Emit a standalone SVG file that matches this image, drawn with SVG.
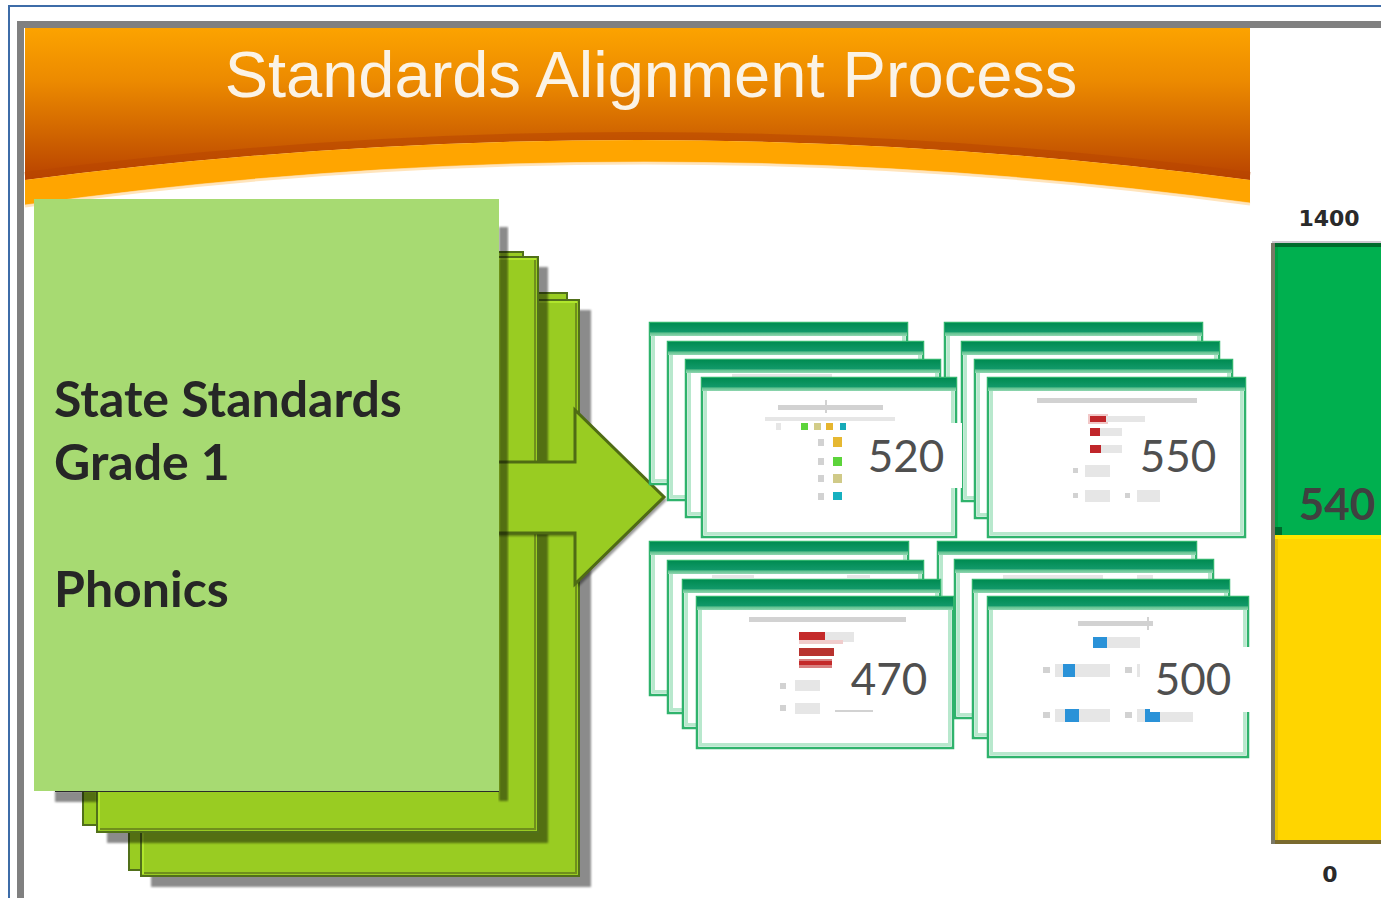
<svg xmlns="http://www.w3.org/2000/svg" width="1381" height="898" viewBox="0 0 1381 898">
  <defs>
    <linearGradient id="hdr" x1="0" y1="0" x2="0" y2="1" gradientUnits="objectBoundingBox">
      <stop offset="0" stop-color="#fca300"/>
      <stop offset="0.35" stop-color="#ec8a00"/>
      <stop offset="0.7" stop-color="#d06400"/>
      <stop offset="1" stop-color="#b84200"/>
    </linearGradient>
    <linearGradient id="bar" x1="0" y1="0" x2="0" y2="1">
      <stop offset="0" stop-color="#008c52"/>
      <stop offset="0.7" stop-color="#12996a"/>
      <stop offset="0.75" stop-color="#5dc08d"/>
      <stop offset="1" stop-color="#8fd6b0"/>
    </linearGradient>
    <filter id="blurShadow" x="-10%" y="-10%" width="120%" height="120%">
      <feGaussianBlur stdDeviation="1.2"/>
    </filter>
    <filter id="soft" x="-20%" y="-20%" width="140%" height="140%">
      <feGaussianBlur stdDeviation="0.7"/>
    </filter>
    <style>
      .page { fill: #99cc22; stroke: #51701a; stroke-width: 2; }
      .hi { fill: none; stroke: #b0e62c; stroke-width: 2; }
      .lo { fill: none; stroke: #6f8f1c; stroke-width: 2; }
      .shadow { fill: #000; opacity: 0.45; filter: url(#blurShadow); }
      .card-frame { fill: #ffffff; stroke: #2fb36c; stroke-width: 2.5; }
      .card-inner { fill: none; stroke: #b8e8cd; stroke-width: 3; }
      .card-bar { fill: url(#bar); }
      .label { font-family: "Lato", "Open Sans", "Liberation Sans", sans-serif; font-weight: 700; fill: #262626; font-size: 50px; }
      .score { font-family: "Lato", "Open Sans", "Liberation Sans", sans-serif; font-size: 44px; fill: #4f4f4f; text-anchor: middle; }
      .axis { font-family: "DejaVu Sans", "Liberation Sans", sans-serif; font-weight: 700; font-size: 22px; fill: #2a2a2a; text-anchor: middle; }
      .g1 { fill: #d2d2d2; }
      .g2 { fill: #e6e6e6; }
    </style>
  </defs>

  <!-- page background and frame -->
  <rect x="0" y="0" width="1381" height="898" fill="#ffffff"/>
  <line x1="8" y1="6" x2="1381" y2="6" stroke="#3d6ca8" stroke-width="2"/>
  <line x1="9" y1="5" x2="9" y2="898" stroke="#3d6ca8" stroke-width="2"/>
  <rect x="17" y="21" width="1364" height="7" fill="#808080"/>
  <rect x="17" y="21" width="7" height="877" fill="#808080"/>

  <!-- title banner -->
  <g id="banner">
    <path d="M25,28 H1250 V180 Q638,100 25,180 Z" fill="url(#hdr)"/>
    <path d="M25,176 Q638,96 1250,176" fill="none" stroke="#b84600" stroke-width="8" opacity="0.55"/>
    <path d="M25,180 Q638,100 1250,180 V203 Q638,120 25,205 Z" fill="#ffa500"/>
    <path d="M25,206 Q638,121 1250,204" fill="none" stroke="#ffd9a0" stroke-width="3" opacity="0.7"/>
    <text x="651" y="97" text-anchor="middle" font-family="Liberation Sans, Arial, sans-serif" font-size="65" fill="#fbf3e6">Standards Alignment Process</text>
  </g>

  <!-- stacked standards pages -->
  <g id="standards-stack">
    <rect x="129" y="293" width="438" height="577" class="page"/>
    <rect x="151" y="310" width="440" height="577" class="shadow"/>
    <rect x="141" y="300" width="438" height="576" class="page"/>
    <path d="M143,874 V302 H577" class="hi"/>
    <path d="M576,303 V873 H144" class="lo"/>
    <rect x="83" y="252" width="440" height="573" class="page"/>
    <rect x="107" y="267" width="441" height="576" class="shadow"/>
    <rect x="97" y="257" width="441" height="575" class="page"/>
    <path d="M99,830 V259 H536" class="hi"/>
    <path d="M535,260 V829 H100" class="lo"/>
  </g>

  <!-- connector: arrow from standards to item sets -->
  <g id="connectors">
    <polygon points="492,465 578,465 578,413 667,500 578,587 578,536 492,536" fill="#000" opacity="0.4" filter="url(#blurShadow)"/>
    <polygon points="490,462 575,462 575,410 664,497 575,584 575,533 490,533" fill="#99cc22" stroke="#4f6b14" stroke-width="3"/>
  </g>

  <g id="front-page">
    <rect x="499" y="227" width="9" height="574" class="shadow"/>
    <rect x="55" y="791" width="42" height="11" class="shadow"/>
    <rect x="34" y="199" width="465" height="592" fill="#a7da72"/>
    <line x1="55" y1="791.5" x2="499" y2="791.5" stroke="#2a2a2a" stroke-width="1"/>
    <text class="label" x="54" y="417">State Standards</text>
    <text class="label" x="54" y="480">Grade 1</text>
    <text class="label" x="54" y="607">Phonics</text>
  </g>

  <!-- item set: 550 -->
  <g id="set-550">
    <g>
      <rect x="945" y="323" width="257" height="159" class="card-frame"/>
      <rect x="948.5" y="326.5" width="250" height="152" class="card-inner"/>
      <rect x="945" y="323" width="257" height="13" class="card-bar"/>
    </g>
    <g>
      <rect x="962" y="342" width="257" height="159" class="card-frame"/>
      <rect x="965.5" y="345.5" width="250" height="152" class="card-inner"/>
      <rect x="962" y="342" width="257" height="13" class="card-bar"/>
    </g>
    <g>
      <rect x="975" y="360" width="257" height="158" class="card-frame"/>
      <rect x="978.5" y="363.5" width="250" height="151" class="card-inner"/>
      <rect x="975" y="360" width="257" height="13" class="card-bar"/>
    </g>
    <g>
      <rect x="988" y="378" width="257" height="159" class="card-frame"/>
      <rect x="991.5" y="381.5" width="250" height="152" class="card-inner"/>
      <rect x="988" y="378" width="257" height="13" class="card-bar"/>
      <g filter="url(#soft)">
        <rect x="1037" y="398" width="160" height="5" class="g1"/>
        <rect x="1088" y="414" width="20" height="10" fill="#f2c8c8"/>
        <rect x="1090" y="416" width="16" height="6" fill="#c0282a"/>
        <rect x="1106" y="416" width="39" height="6" class="g2"/>
        <rect x="1090" y="428" width="10" height="8" fill="#c0282a"/>
        <rect x="1100" y="428" width="22" height="8" class="g2"/>
        <rect x="1090" y="445" width="11" height="8" fill="#c0282a"/>
        <rect x="1101" y="445" width="21" height="8" class="g2"/>
        <rect x="1073" y="468" width="5" height="5" class="g1"/>
        <rect x="1085" y="465" width="25" height="12" class="g2"/>
        <rect x="1073" y="493" width="5" height="5" class="g1"/>
        <rect x="1085" y="490" width="25" height="12" class="g2"/>
        <rect x="1125" y="493" width="5" height="5" class="g1"/>
        <rect x="1137" y="490" width="23" height="12" class="g2"/>
      </g>
      <text class="score" x="1178" y="472">550</text>
    </g>
  </g>

  <!-- item set: 520 -->
  <g id="set-520">
    <g>
      <rect x="650" y="323" width="257" height="161" class="card-frame"/>
      <rect x="653.5" y="326.5" width="250" height="154" class="card-inner"/>
      <rect x="650" y="323" width="257" height="13" class="card-bar"/>
    </g>
    <g>
      <rect x="668" y="342" width="255" height="158" class="card-frame"/>
      <rect x="671.5" y="345.5" width="248" height="151" class="card-inner"/>
      <rect x="668" y="342" width="255" height="13" class="card-bar"/>
    </g>
    <g>
      <rect x="686" y="360" width="254" height="157" class="card-frame"/>
      <rect x="689.5" y="363.5" width="247" height="150" class="card-inner"/>
      <rect x="686" y="360" width="254" height="13" class="card-bar"/>
      <rect x="732" y="374" width="100" height="3" class="g2"/>
    </g>
    <g>
      <rect x="702" y="378" width="254" height="159" class="card-frame"/>
      <rect x="705.5" y="381.5" width="247" height="152" class="card-inner"/>
      <rect x="702" y="378" width="254" height="13" class="card-bar"/>
      <g filter="url(#soft)">
        <rect x="778" y="405" width="105" height="5" class="g1"/>
        <rect x="825" y="400" width="2" height="13" class="g1"/>
        <rect x="765" y="417" width="130" height="4" class="g2"/>
        <rect x="776" y="423" width="5" height="7" class="g2"/>
        <rect x="801" y="423" width="7" height="7" fill="#5cd43a"/>
        <rect x="814" y="423" width="7" height="7" fill="#d2cc88"/>
        <rect x="826" y="423" width="7" height="7" fill="#e6b52e"/>
        <rect x="840" y="423" width="6" height="7" fill="#18aab8"/>
        <rect x="818" y="439" width="6" height="7" class="g1"/>
        <rect x="833" y="437" width="9" height="10" fill="#e6b830"/>
        <rect x="818" y="458" width="6" height="7" class="g1"/>
        <rect x="833" y="457" width="9" height="9" fill="#5cd43a"/>
        <rect x="818" y="475" width="6" height="7" class="g1"/>
        <rect x="833" y="474" width="9" height="9" fill="#d0ca88"/>
        <rect x="818" y="493" width="6" height="7" class="g1"/>
        <rect x="833" y="492" width="9" height="8" fill="#16b0c0"/>
      </g>
      <rect x="862" y="423" width="100" height="65" fill="#ffffff"/>
      <text class="score" x="906" y="472">520</text>
    </g>
  </g>

  <!-- item set: 500 -->
  <g id="set-500">
    <g>
      <rect x="938" y="542" width="258" height="158" class="card-frame"/>
      <rect x="941.5" y="545.5" width="251" height="151" class="card-inner"/>
      <rect x="938" y="542" width="258" height="13" class="card-bar"/>
    </g>
    <g>
      <rect x="955" y="560" width="258" height="158" class="card-frame"/>
      <rect x="958.5" y="563.5" width="251" height="151" class="card-inner"/>
      <rect x="955" y="560" width="258" height="13" class="card-bar"/>
      <rect x="1003" y="575" width="100" height="4" class="g2"/>
      <rect x="1137" y="575" width="16" height="4" class="g2"/>
    </g>
    <g>
      <rect x="973" y="580" width="256" height="158" class="card-frame"/>
      <rect x="976.5" y="583.5" width="249" height="151" class="card-inner"/>
      <rect x="973" y="580" width="256" height="13" class="card-bar"/>
    </g>
    <g>
      <rect x="988" y="597" width="260" height="160" class="card-frame"/>
      <rect x="991.5" y="600.5" width="253" height="153" class="card-inner"/>
      <rect x="988" y="597" width="260" height="13" class="card-bar"/>
      <g filter="url(#soft)">
        <rect x="1078" y="621" width="75" height="5" class="g1"/>
        <rect x="1147" y="617" width="2" height="13" class="g1"/>
        <rect x="1093" y="637" width="14" height="11" fill="#2a92d8"/>
        <rect x="1107" y="637" width="33" height="11" class="g2"/>
        <rect x="1043" y="667" width="7" height="6" class="g1"/>
        <rect x="1055" y="664" width="55" height="13" class="g2"/>
        <rect x="1063" y="664" width="12" height="13" fill="#2a92d8"/>
        <rect x="1125" y="667" width="7" height="6" class="g1"/>
        <rect x="1137" y="664" width="3" height="13" class="g2"/>
        <rect x="1043" y="712" width="7" height="6" class="g1"/>
        <rect x="1055" y="709" width="55" height="13" class="g2"/>
        <rect x="1065" y="709" width="14" height="13" fill="#2a92d8"/>
        <rect x="1125" y="712" width="7" height="6" class="g1"/>
        <rect x="1137" y="709" width="56" height="13" class="g2"/>
        <rect x="1145" y="709" width="15" height="13" fill="#2a92d8"/>
      </g>
      <rect x="1150" y="647" width="100" height="65" fill="#ffffff"/>
      <text class="score" x="1193" y="695">500</text>
    </g>
  </g>

  <!-- item set: 470 -->
  <g id="set-470">
    <g>
      <rect x="650" y="542" width="258" height="153" class="card-frame"/>
      <rect x="653.5" y="545.5" width="251" height="146" class="card-inner"/>
      <rect x="650" y="542" width="258" height="13" class="card-bar"/>
    </g>
    <g>
      <rect x="668" y="561" width="255" height="152" class="card-frame"/>
      <rect x="671.5" y="564.5" width="248" height="145" class="card-inner"/>
      <rect x="668" y="561" width="255" height="13" class="card-bar"/>
      <rect x="712" y="575" width="42" height="3" class="g2"/>
      <rect x="847" y="575" width="23" height="3" class="g2"/>
    </g>
    <g>
      <rect x="683" y="580" width="257" height="148" class="card-frame"/>
      <rect x="686.5" y="583.5" width="250" height="141" class="card-inner"/>
      <rect x="683" y="580" width="257" height="13" class="card-bar"/>
    </g>
    <g>
      <rect x="697" y="597" width="256" height="151" class="card-frame"/>
      <rect x="700.5" y="600.5" width="249" height="144" class="card-inner"/>
      <rect x="697" y="597" width="256" height="13" class="card-bar"/>
      <g filter="url(#soft)">
        <rect x="749" y="617" width="157" height="5" class="g1"/>
        <rect x="799" y="632" width="26" height="8" fill="#c42a2c"/>
        <rect x="825" y="632" width="29" height="10" class="g2"/>
        <rect x="799" y="640" width="44" height="4" fill="#f0cccc"/>
        <rect x="799" y="648" width="35" height="8" fill="#b8302e"/>
        <rect x="799" y="659" width="33" height="9" fill="#d88080"/>
        <rect x="799" y="661" width="33" height="4" fill="#c42a2c"/>
        <rect x="780" y="683" width="6" height="6" class="g1"/>
        <rect x="795" y="680" width="25" height="11" class="g2"/>
        <rect x="780" y="705" width="6" height="6" class="g1"/>
        <rect x="795" y="703" width="25" height="11" class="g2"/>
        <rect x="835" y="710" width="38" height="2" class="g1"/>
      </g>
      <text class="score" x="889" y="695">470</text>
    </g>
  </g>

  <!-- scale bar -->
  <g id="scale">
    <text class="axis" x="1329" y="226">1400</text>
    <rect x="1272" y="241" width="109" height="2" fill="#cfc8d0"/>
    <rect x="1272" y="243" width="109" height="4" fill="#006b2c"/>
    <rect x="1272" y="247" width="109" height="288" fill="#00b04f"/>
    <rect x="1272" y="535" width="109" height="4" fill="#ffe600"/>
    <rect x="1272" y="539" width="109" height="301" fill="#ffd500"/>
    <rect x="1272" y="840" width="109" height="4" fill="#7a6a2e"/>
    <rect x="1271" y="243" width="4" height="601" fill="#7a7866"/>
    <rect x="1275" y="247" width="3" height="288" fill="#00a043"/>
    <rect x="1275" y="539" width="3" height="301" fill="#e8c200"/>
    <rect x="1275" y="527" width="7" height="8" fill="#006b2c"/>
    <text x="1337" y="520" text-anchor="middle" font-family="Lato, 'Open Sans', sans-serif" font-weight="700" font-size="44" fill="#404040">540</text>
    <text class="axis" x="1330" y="882">0</text>
  </g>
</svg>
